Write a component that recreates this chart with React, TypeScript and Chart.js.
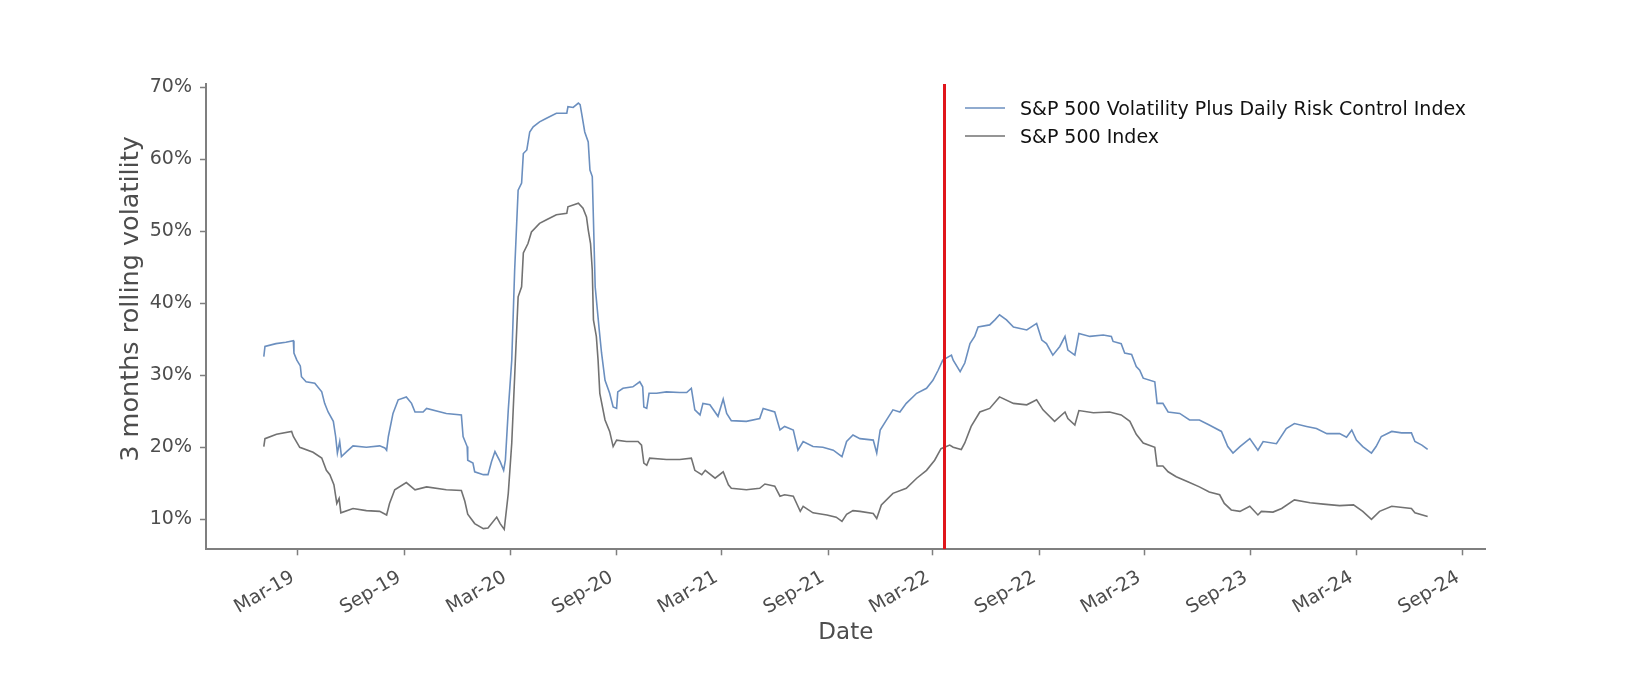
import React, { useEffect, useRef } from "react";
import { Chart, registerables } from "chart.js";

Chart.register(...registerables);

// ---------- data ----------
const seriesNames = [
  "S&P 500 Volatility Plus Daily Risk Control Index",
  "S&P 500 Index",
];

const volPlusDates = [
  "2019-01-01","2019-01-03","2019-01-22","2019-02-08","2019-02-21","2019-02-22","2019-02-27","2019-03-05","2019-03-07","2019-03-15",
  "2019-03-30","2019-04-11","2019-04-16","2019-04-22","2019-05-01","2019-05-05","2019-05-08","2019-05-12","2019-05-15","2019-05-24",
  "2019-06-04","2019-06-27","2019-07-20","2019-07-29","2019-08-01","2019-08-04","2019-08-12","2019-08-21","2019-09-04","2019-09-13",
  "2019-09-19","2019-10-03","2019-10-09","2019-11-12","2019-12-08","2019-12-11","2019-12-18","2019-12-19","2019-12-28","2019-12-31",
  "2020-01-15","2020-01-23","2020-01-29","2020-02-04","2020-02-13","2020-02-19","2020-02-22","2020-02-27","2020-03-04","2020-03-09",
  "2020-03-15","2020-03-21","2020-03-24","2020-03-30","2020-04-04","2020-04-10","2020-04-21","2020-05-03","2020-05-20","2020-06-07",
  "2020-06-09","2020-06-18","2020-06-27","2020-06-30","2020-07-03","2020-07-08","2020-07-14","2020-07-17","2020-07-21","2020-07-23",
  "2020-07-26","2020-08-02","2020-08-06","2020-08-12","2020-08-20","2020-08-26","2020-09-01","2020-09-03","2020-09-12","2020-09-29",
  "2020-10-11","2020-10-16","2020-10-18","2020-10-23","2020-10-27","2020-11-09","2020-11-26","2020-12-19","2020-12-31","2021-01-08",
  "2021-01-14","2021-01-23","2021-01-28","2021-02-09","2021-02-23","2021-03-04","2021-03-10","2021-03-18","2021-04-13","2021-05-06",
  "2021-05-12","2021-06-01","2021-06-10","2021-06-18","2021-07-03","2021-07-11","2021-07-20","2021-08-06","2021-08-23","2021-09-10",
  "2021-09-25","2021-10-03","2021-10-14","2021-10-26","2021-11-18","2021-11-24","2021-11-30","2021-12-11","2021-12-22","2022-01-03",
  "2022-01-14","2022-02-01","2022-02-18","2022-03-01","2022-03-10","2022-03-18","2022-04-02","2022-04-05","2022-04-17","2022-04-25",
  "2022-05-04","2022-05-12","2022-05-18","2022-06-07","2022-06-16","2022-06-24","2022-07-06","2022-07-18","2022-08-10","2022-08-27",
  "2022-09-05","2022-09-13","2022-09-24","2022-10-06","2022-10-15","2022-10-20","2022-11-01","2022-11-08","2022-11-27","2022-12-20",
  "2023-01-03","2023-01-06","2023-01-20","2023-01-26","2023-02-07","2023-02-15","2023-02-21","2023-02-27","2023-03-19","2023-03-23",
  "2023-04-02","2023-04-11","2023-05-01","2023-05-18","2023-06-04","2023-06-21","2023-07-12","2023-07-23","2023-08-01","2023-08-13",
  "2023-08-30","2023-09-13","2023-09-22","2023-10-15","2023-11-01","2023-11-15","2023-12-06","2023-12-23","2024-01-10","2024-02-01",
  "2024-02-13","2024-02-22","2024-03-01","2024-03-12","2024-03-27","2024-04-04","2024-04-13","2024-05-01","2024-05-18","2024-06-04",
  "2024-06-10","2024-06-22","2024-07-02",
];
const volPlusValues = [
  32.6,34.0,34.4,34.6,34.8,33.1,32.1,31.3,29.8,29.1,
  28.9,27.7,26.1,24.9,23.6,21.5,19.2,20.8,18.7,19.4,
  20.2,20.0,20.2,19.9,19.6,21.5,24.7,26.6,27.0,26.1,
  24.9,24.9,25.4,24.7,24.5,21.5,20.1,18.2,17.8,16.6,
  16.2,16.2,18.0,19.4,18.0,16.8,18.2,25.2,32.1,44.6,
  55.7,56.7,60.8,61.3,63.8,64.5,65.2,65.7,66.4,66.4,
  67.3,67.2,67.8,67.6,66.2,63.8,62.4,58.5,57.6,51.6,
  42.3,36.3,33.1,29.3,27.5,25.6,25.4,27.7,28.2,28.4,
  29.1,28.4,25.6,25.4,27.5,27.5,27.7,27.6,27.6,28.2,
  25.2,24.5,26.1,25.9,24.3,26.7,24.7,23.7,23.6,24.0,
  25.4,24.9,22.4,22.9,22.4,19.6,20.8,20.1,20.0,19.6,
  18.7,20.8,21.7,21.2,21.0,19.2,22.4,23.8,25.2,24.9,
  26.1,27.5,28.2,29.3,30.7,32.1,32.8,32.1,30.5,31.7,
  34.4,35.4,36.7,37.0,37.7,38.4,37.7,36.7,36.3,37.2,
  34.9,34.4,32.8,34.0,35.4,33.5,32.8,35.8,35.4,35.6,
  35.4,34.7,34.4,33.1,32.9,31.2,30.7,29.6,29.1,26.1,
  26.1,24.9,24.7,23.8,23.8,23.1,22.2,20.1,19.2,20.1,
  21.2,19.6,20.8,20.5,22.6,23.3,22.9,22.6,21.9,21.9,
  21.4,22.4,21.0,20.1,19.2,20.1,21.5,22.2,22.0,22.0,
  20.8,20.3,19.7,
];

const spxDates = [
  "2019-01-01","2019-01-03","2019-01-23","2019-02-18","2019-02-21","2019-03-04","2019-03-27","2019-04-11","2019-04-19","2019-04-25",
  "2019-05-02","2019-05-07","2019-05-11","2019-05-14","2019-06-04","2019-06-27","2019-07-20","2019-08-01","2019-08-06","2019-08-15",
  "2019-09-04","2019-09-19","2019-10-09","2019-11-12","2019-12-08","2019-12-14","2019-12-19","2019-12-31","2020-01-15","2020-01-23",
  "2020-02-07","2020-02-13","2020-02-20","2020-02-27","2020-03-04","2020-03-09","2020-03-15","2020-03-21","2020-03-24","2020-04-01",
  "2020-04-07","2020-04-21","2020-05-03","2020-05-20","2020-06-07","2020-06-09","2020-06-27","2020-07-05","2020-07-11","2020-07-14",
  "2020-07-18","2020-07-21","2020-07-23","2020-07-28","2020-07-31","2020-08-03","2020-08-12","2020-08-20","2020-08-26","2020-09-01",
  "2020-09-18","2020-10-08","2020-10-14","2020-10-18","2020-10-23","2020-10-28","2020-11-26","2020-12-19","2021-01-08","2021-01-14",
  "2021-01-26","2021-02-01","2021-02-18","2021-03-04","2021-03-13","2021-03-18","2021-04-13","2021-05-06","2021-05-15","2021-06-01",
  "2021-06-10","2021-06-18","2021-07-03","2021-07-15","2021-07-20","2021-08-06","2021-08-30","2021-09-15","2021-09-25","2021-10-03",
  "2021-10-14","2021-10-26","2021-11-18","2021-11-24","2021-12-02","2021-12-22","2022-01-14","2022-02-01","2022-02-18","2022-03-04",
  "2022-03-15","2022-03-30","2022-04-05","2022-04-19","2022-04-25","2022-05-06","2022-05-21","2022-06-07","2022-06-24","2022-07-18",
  "2022-08-10","2022-08-27","2022-09-07","2022-09-27","2022-10-15","2022-10-20","2022-11-01","2022-11-08","2022-12-03","2022-12-31",
  "2023-01-20","2023-02-04","2023-02-15","2023-02-27","2023-03-19","2023-03-23","2023-04-02","2023-04-11","2023-04-25","2023-05-15",
  "2023-06-04","2023-06-21","2023-07-09","2023-07-17","2023-07-29","2023-08-13","2023-08-30","2023-09-13","2023-09-19","2023-10-09",
  "2023-10-24","2023-11-15","2023-12-12","2024-01-04","2024-02-01","2024-02-25","2024-03-12","2024-03-27","2024-04-10","2024-05-01",
  "2024-06-04","2024-06-10","2024-07-02",
];
const spxValues = [
  20.1,21.2,21.8,22.2,21.5,20.0,19.3,18.5,16.8,16.2,
  14.8,12.2,12.9,10.9,11.5,11.2,11.1,10.6,12.2,14.1,
  15.1,14.1,14.5,14.1,14.0,12.5,10.7,9.4,8.7,8.8,
  10.3,9.4,8.6,13.6,20.6,29.8,40.9,42.3,47.0,48.3,
  49.9,51.1,51.6,52.3,52.5,53.4,53.9,53.2,52.0,50.2,
  48.3,44.6,37.7,35.4,32.1,27.5,23.8,22.2,20.1,21.0,
  20.8,20.8,20.3,17.8,17.5,18.5,18.3,18.3,18.5,16.8,
  16.2,16.8,15.7,16.6,14.8,14.3,14.1,14.3,14.9,14.6,
  13.2,13.4,13.2,11.1,11.8,10.9,10.6,10.3,9.7,10.7,
  11.2,11.1,10.8,10.1,12.0,13.6,14.3,15.7,16.8,18.2,
  19.8,20.3,20.0,19.7,20.6,22.9,24.9,25.4,27.0,26.1,
  25.9,26.6,25.2,23.6,24.9,24.0,23.1,25.1,24.8,24.9,
  24.5,23.6,21.8,20.6,20.0,17.4,17.4,16.6,15.9,15.2,
  14.5,13.8,13.4,12.2,11.3,11.1,11.8,10.6,11.1,11.0,
  11.5,12.7,12.3,12.1,11.9,12.0,11.1,10.0,11.1,11.8,
  11.5,10.9,10.4,
];

const markerDate = "2022-03-21";
const xTickDates = [
  "2019-03-01","2019-09-01","2020-03-01","2020-09-01","2021-03-01","2021-09-01",
  "2022-03-01","2022-09-01","2023-03-01","2023-09-01","2024-03-01","2024-09-01",
];
const yTickValues = [10, 20, 30, 40, 50, 60, 70];
const xRange = ["2018-09-23T05:00:00Z", "2024-10-10T05:00:00Z"];
const yRange = [5.83, 70.46];
const monthNames = ["Jan","Feb","Mar","Apr","May","Jun","Jul","Aug","Sep","Oct","Nov","Dec"];
const xTitle = "Date";
const yTitle = "3 months rolling volatility";

// ---------- styles ----------
const FONT = "'DejaVu Sans', 'Liberation Sans', sans-serif";
const BLUE = "#6b8fbf";
const GRAY = "#727272";
const RED = "#e0151b";
const AXIS = "#7f7f7f";
const TEXT = "#4d4d4d";

function fmtMonth(v: number): string {
  const d = new Date(v);
  return `${monthNames[d.getUTCMonth()]}-${String(d.getUTCFullYear()).slice(2)}`;
}

const overlayPlugin = {
  id: "overlay",
  afterDraw(chart: any) {
    const ctx = chart.ctx as CanvasRenderingContext2D;
    const area = chart.chartArea;
    ctx.save();
    // legend
    const lx0 = 965, lx1 = 1005, tx = 1020;
    const rows = [
      { y: 108, color: BLUE, text: seriesNames[0] },
      { y: 136, color: GRAY, text: seriesNames[1] },
    ];
    ctx.font = `19px ${FONT}`;
    ctx.textAlign = "left";
    ctx.textBaseline = "alphabetic";
    for (const r of rows) {
      ctx.strokeStyle = r.color;
      ctx.lineWidth = 1.6;
      ctx.beginPath();
      ctx.moveTo(lx0, r.y);
      ctx.lineTo(lx1, r.y);
      ctx.stroke();
      ctx.fillStyle = "#111";
      ctx.fillText(r.text, tx, r.y + 7);
    }
    // x title
    ctx.fillStyle = TEXT;
    ctx.font = `23px ${FONT}`;
    ctx.textAlign = "center";
    ctx.fillText(xTitle, (area.left + area.right) / 2, 639);
    // y title
    ctx.font = `25.5px ${FONT}`;
    ctx.translate(137.5, 299);
    ctx.rotate(-Math.PI / 2);
    ctx.fillText(yTitle, 0, 0);
    ctx.restore();
  },
};

export default function App() {
  const ref = useRef<HTMLCanvasElement | null>(null);

  useEffect(() => {
    if (!ref.current) return;
    const markerX = Date.parse(markerDate);
    const chart = new Chart(ref.current, {
      type: "line",
      data: {
        datasets: [
          {
            label: "marker",
            data: [
              { x: markerX, y: yRange[0] },
              { x: markerX, y: yRange[1] },
            ],
            borderColor: RED,
            borderWidth: 3,
            pointRadius: 0,
            order: 0,
          },
          {
            label: seriesNames[0],
            data: volPlusDates.map((d, i) => ({ x: Date.parse(d), y: volPlusValues[i] })),
            borderColor: BLUE,
            borderWidth: 1.6,
            pointRadius: 0,
            tension: 0,
            order: 1,
          },
          {
            label: seriesNames[1],
            data: spxDates.map((d, i) => ({ x: Date.parse(d), y: spxValues[i] })),
            borderColor: GRAY,
            borderWidth: 1.6,
            pointRadius: 0,
            tension: 0,
            order: 2,
          },
        ],
      },
      options: {
        responsive: false,
        animation: false,
        devicePixelRatio: 1,
        layout: { padding: { top: 84, right: 164.3, left: 0, bottom: 0 } },
        plugins: {
          legend: { display: false },
          tooltip: { enabled: false },
        },
        scales: {
          x: {
            type: "linear",
            min: Date.parse(xRange[0]),
            max: Date.parse(xRange[1]),
            afterBuildTicks: (s: any) => {
              s.ticks = xTickDates.map((d) => ({ value: Date.parse(d) }));
            },
            afterFit: (s: any) => {
              s.height = 138.7;
            },
            ticks: {
              autoSkip: false,
              minRotation: 30,
              maxRotation: 30,
              padding: 11,
              labelOffset: -5,
              color: TEXT,
              font: { family: FONT, size: 19 },
              callback: (v: any) => fmtMonth(Number(v)),
            },
            grid: {
              drawOnChartArea: false,
              drawTicks: true,
              tickLength: 6,
              tickColor: AXIS,
              tickWidth: 1.5,
            },
            border: { display: true, color: AXIS, width: 2 },
          },
          y: {
            type: "linear",
            min: yRange[0],
            max: yRange[1],
            afterBuildTicks: (s: any) => {
              s.ticks = yTickValues.map((v) => ({ value: v }));
            },
            afterFit: (s: any) => {
              s.width = 206;
            },
            ticks: {
              padding: 8,
              color: TEXT,
              font: { family: FONT, size: 19 },
              callback: (v: any) => `${v}%`,
            },
            grid: {
              drawOnChartArea: false,
              drawTicks: true,
              tickLength: 6,
              tickColor: AXIS,
              tickWidth: 1.5,
            },
            border: { display: true, color: AXIS, width: 2 },
          },
        },
      },
      plugins: [overlayPlugin],
    } as any);
    return () => chart.destroy();
  }, []);

  return (
    <div style={{ position: "fixed", left: 0, top: 0, width: 1650, height: 688, background: "#fff" }}>
      <canvas ref={ref} width={1650} height={688} style={{ display: "block", width: 1650, height: 688 }} />
    </div>
  );
}
